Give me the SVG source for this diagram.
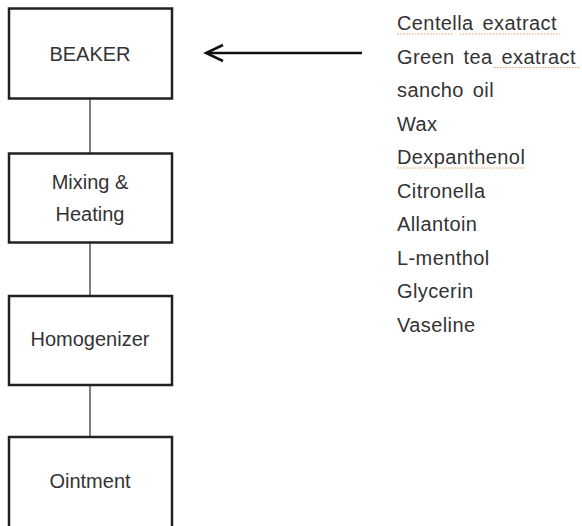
<svg xmlns="http://www.w3.org/2000/svg" width="582" height="526" viewBox="0 0 582 526">
<style>
.box{fill:#fff;stroke:#222;stroke-width:2.5}
.lbl{font-family:"Liberation Sans",Arial,sans-serif;font-size:20px;fill:#333;text-anchor:middle}
.ing{font-family:"Liberation Sans",Arial,sans-serif;font-size:20px;fill:#333;word-spacing:3px;letter-spacing:0.4px}
.conn{stroke:#555;stroke-width:1.5;fill:none}
.arr{stroke:#111;stroke-width:2.5;fill:none}
.sq{stroke:#e6a060;stroke-width:1.2;stroke-dasharray:1.5 1.5;fill:none}
</style>
<rect width="582" height="526" fill="#fff"/>
<g id="connectors">
<line class="conn" x1="90" y1="98" x2="90" y2="153"/>
<line class="conn" x1="90" y1="242" x2="90" y2="296"/>
<line class="conn" x1="90" y1="385" x2="90" y2="437"/>
<line class="arr" x1="362" y1="53" x2="207" y2="53"/>
<polyline class="arr" points="223,45 206,53 223,61"/>
</g>
<g id="beaker">
<rect class="box" x="9" y="8.5" width="163" height="90"/>
<text class="lbl" x="90" y="61">BEAKER</text>
</g>
<g id="mixing">
<rect class="box" x="9" y="153.5" width="163" height="89"/>
<text class="lbl" x="90" y="189">Mixing &amp;</text>
<text class="lbl" x="90" y="221">Heating</text>
</g>
<g id="homogenizer">
<rect class="box" x="9" y="296" width="163" height="89"/>
<text class="lbl" x="90" y="346">Homogenizer</text>
</g>
<g id="ointment">
<rect class="box" x="9" y="437" width="163" height="92"/>
<text class="lbl" x="90" y="488">Ointment</text>
</g>
<g id="ingredients">
<text class="ing" x="397" y="30">Centella exatract</text>
<text class="ing" x="397" y="63.5">Green tea exatract</text>
<text class="ing" x="397" y="97">sancho oil</text>
<text class="ing" x="397" y="130.5">Wax</text>
<text class="ing" x="397" y="164">Dexpanthenol</text>
<text class="ing" x="397" y="197.5">Citronella</text>
<text class="ing" x="397" y="231">Allantoin</text>
<text class="ing" x="397" y="264.5">L-menthol</text>
<text class="ing" x="397" y="298">Glycerin</text>
<text class="ing" x="397" y="331.5">Vaseline</text>
<path class="sq" d="M397 34H453M460 34H560M494 67.5H581M397 168H526"/>
</g>
</svg>
